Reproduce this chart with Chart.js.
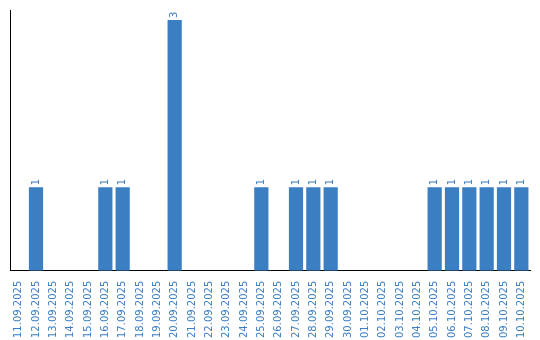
<!DOCTYPE html>
<html>
<head>
<meta charset="utf-8">
<script src="https://cdn.jsdelivr.net/npm/chart.js@4/dist/chart.umd.min.js"></script>
<style>
  html, body { margin: 0; padding: 0; background: #fff; }
  #wrap { width: 540px; height: 340px; }
</style>
</head>
<body>
<div id="wrap"><canvas id="chart" width="540" height="340"></canvas></div>
<script>
// Données
const dates = [
  '11.09.2025', '12.09.2025', '13.09.2025', '14.09.2025', '15.09.2025',
  '16.09.2025', '17.09.2025', '18.09.2025', '19.09.2025', '20.09.2025',
  '21.09.2025', '22.09.2025', '23.09.2025', '24.09.2025', '25.09.2025',
  '26.09.2025', '27.09.2025', '28.09.2025', '29.09.2025', '30.09.2025',
  '01.10.2025', '02.10.2025', '03.10.2025', '04.10.2025', '05.10.2025',
  '06.10.2025', '07.10.2025', '08.10.2025', '09.10.2025', '10.10.2025'
];
const counts = [
  0, 1, 0, 0, 0, 1, 1, 0, 0, 3,
  0, 0, 0, 0, 1, 0, 1, 1, 1, 0,
  0, 0, 0, 0, 1, 1, 1, 1, 1, 1
];

const blue = '#3b7ec2';

// Étiquettes de valeur au-dessus des barres (tournées)
const valueLabels = {
  id: 'valueLabels',
  afterDatasetsDraw(chart) {
    const ctx = chart.ctx;
    const meta = chart.getDatasetMeta(0);
    ctx.save();
    ctx.fillStyle = blue;
    ctx.font = '10px "DejaVu Sans"';
    ctx.textAlign = 'left';
    ctx.textBaseline = 'middle';
    meta.data.forEach((bar, i) => {
      if (!counts[i]) return;
      ctx.save();
      ctx.translate(bar.x, bar.y - 2);
      ctx.rotate(-Math.PI / 2);
      ctx.fillText(String(counts[i]), 0, 0);
      ctx.restore();
    });
    ctx.restore();
  }
};

new Chart(document.getElementById('chart'), {
  type: 'bar',
  data: {
    labels: dates,
    datasets: [{
      data: counts,
      backgroundColor: blue,
      borderWidth: 0,
      barPercentage: 0.82,
      categoryPercentage: 1
    }]
  },
  options: {
    responsive: false,
    animation: false,
    layout: { padding: { left: 2, right: 10, top: 10, bottom: 0 } },
    plugins: { legend: { display: false }, tooltip: { enabled: false } },
    scales: {
      x: {
        grid: { display: false },
        border: { display: true, color: '#000', width: 1 },
        ticks: {
          color: blue,
          font: { family: 'DejaVu Sans', size: 10 },
          minRotation: 90,
          maxRotation: 90,
          autoSkip: false,
          padding: 2
        }
      },
      y: {
        min: 0,
        max: 3.12,
        grid: { display: false },
        border: { display: true, color: '#000', width: 1 },
        ticks: { display: false }
      }
    }
  },
  plugins: [valueLabels]
});
</script>
</body>
</html>
